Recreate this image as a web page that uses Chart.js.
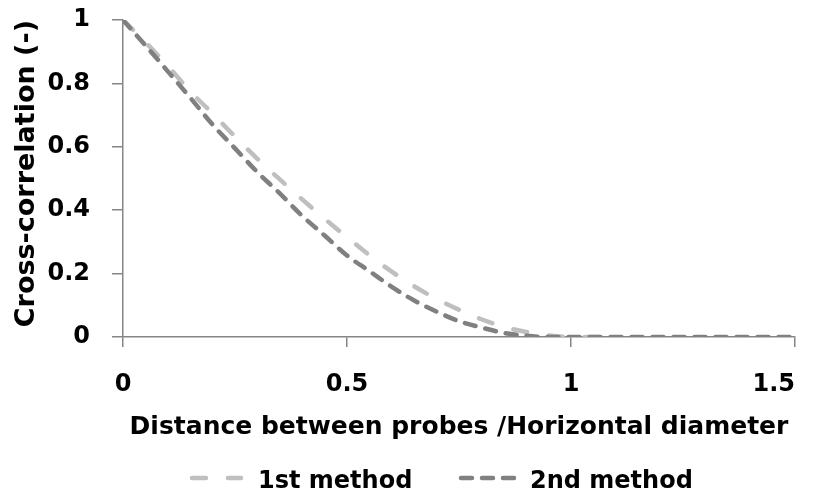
<!DOCTYPE html>
<html>
<head>
<meta charset="utf-8">
<script src="https://cdn.jsdelivr.net/npm/chart.js@4/dist/chart.umd.min.js"></script>
<style>
  html, body { margin: 0; padding: 0; background: #ffffff; }
  #wrap { width: 818px; height: 492px; }
</style>
</head>
<body>
<div id="wrap"><canvas id="c" width="818" height="492"></canvas></div>
<script>
// ---- data ----
const seriesNames = ['1st method', '2nd method'];
const xFirst  = [0, 0.05, 0.1, 0.15, 0.2, 0.25, 0.3, 0.35, 0.4, 0.45, 0.5, 0.55, 0.6, 0.65, 0.7, 0.75, 0.8, 0.85, 0.9, 0.95, 1.0, 1.1];
const yFirst  = [1, 0.93, 0.855, 0.775, 0.705, 0.632, 0.562, 0.497, 0.434, 0.373, 0.315, 0.258, 0.206, 0.16, 0.12, 0.086, 0.056, 0.032, 0.016, 0.005, 0, 0];
const xSecond = [0, 0.05, 0.1, 0.15, 0.2, 0.25, 0.3, 0.35, 0.4, 0.45, 0.5, 0.55, 0.6, 0.65, 0.7, 0.75, 0.8, 0.85, 0.9, 0.95, 1.0, 1.25, 1.5];
const ySecond = [1, 0.92, 0.838, 0.755, 0.67, 0.595, 0.52, 0.453, 0.382, 0.32, 0.257, 0.208, 0.158, 0.115, 0.08, 0.05, 0.03, 0.013, 0.004, 0, 0, 0, 0];
const xTicks = [0, 0.5, 1, 1.5];
const yTicks = [0, 0.2, 0.4, 0.6, 0.8, 1];
const xTitle = 'Distance between probes /Horizontal diameter';
const yTitle = 'Cross-correlation (-)';

const FONT = "'DejaVu Sans'";
const AXIS = '#868686';
const toPts = (xs, ys) => xs.map((x, i) => ({ x: x, y: ys[i] }));

// keep the last x tick label inside the canvas (right-aligned on its tick)
const lastLabelPlugin = {
  id: 'lastLabel',
  beforeDraw(chart) {
    const items = chart.scales.x.getLabelItems();
    if (items.length) items[items.length - 1].options.textAlign = 'right';
  }
};

// custom legend drawn from the datasets
const legendPlugin = {
  id: 'dashLegend',
  afterDraw(chart) {
    const ctx = chart.ctx;
    const pos = [
      { x1: 192, x2: 241, tx: 258 },
      { x1: 461, x2: 515, tx: 530 }
    ];
    const ySym = 478, yText = 488;
    chart.data.datasets.forEach((ds, i) => {
      const p = pos[i];
      ctx.save();
      ctx.strokeStyle = ds.borderColor;
      ctx.lineWidth = ds.borderWidth;
      ctx.lineCap = 'round';
      ctx.setLineDash(ds.borderDash);
      ctx.beginPath();
      ctx.moveTo(p.x1, ySym);
      ctx.lineTo(p.x2, ySym);
      ctx.stroke();
      ctx.setLineDash([]);
      ctx.fillStyle = '#000000';
      ctx.font = 'bold 24px ' + FONT;
      ctx.textBaseline = 'alphabetic';
      ctx.textAlign = 'left';
      ctx.fillText(ds.label, p.tx, yText);
      ctx.restore();
    });
  }
};

new Chart(document.getElementById('c'), {
  type: 'line',
  data: {
    datasets: [
      {
        label: seriesNames[0],
        data: toPts(xFirst, yFirst),
        borderColor: '#bfbfbf',
        borderWidth: 4.5,
        borderDash: [14, 22],
        borderCapStyle: 'round',
        pointRadius: 0,
        cubicInterpolationMode: 'monotone',
        fill: false,
        order: 1
      },
      {
        label: seriesNames[1],
        data: toPts(xSecond, ySecond),
        borderColor: '#808080',
        borderWidth: 4.5,
        borderDash: [11, 10],
        borderCapStyle: 'round',
        pointRadius: 0,
        cubicInterpolationMode: 'monotone',
        fill: false,
        order: 0
      }
    ]
  },
  options: {
    responsive: false,
    animation: false,
    devicePixelRatio: 1,
    layout: { padding: { top: 20, right: 23, left: 0, bottom: 30 } },
    plugins: {
      legend: { display: false },
      tooltip: { enabled: false }
    },
    scales: {
      x: {
        type: 'linear',
        min: 0, max: 1.5,
        afterFit: (s) => { s.height = 125; s.paddingLeft = 0; s.paddingRight = 0; },
        afterBuildTicks: (s) => { s.ticks = xTicks.map(v => ({ value: v })); },
        ticks: {
          color: '#000000',
          font: { family: FONT, size: 24, weight: 'bold' },
          padding: 23,
          maxRotation: 0,
          callback: (v) => String(v)
        },
        grid: { drawOnChartArea: false, drawTicks: true, tickLength: 10, color: AXIS, lineWidth: 1.5 },
        border: { display: true, color: AXIS, width: 1.5 },
        title: {
          display: true, text: xTitle, color: '#000000',
          font: { family: FONT, size: 25, weight: 'bold' },
          padding: { top: 0, bottom: 20 }
        }
      },
      y: {
        type: 'linear',
        min: 0, max: 1,
        afterFit: (s) => { s.width = 123; s.paddingTop = 0; s.paddingBottom = 0; },
        afterBuildTicks: (s) => { s.ticks = yTicks.map(v => ({ value: v })); },
        ticks: {
          color: '#000000',
          font: { family: FONT, size: 24, weight: 'bold' },
          padding: 22,
          callback: (v) => String(v)
        },
        grid: { drawOnChartArea: false, drawTicks: true, tickLength: 11, color: AXIS, lineWidth: 1.5 },
        border: { display: true, color: AXIS, width: 1.5 },
        title: {
          display: true, text: yTitle, color: '#000000', align: 'end',
          font: { family: FONT, size: 27, weight: 'bold' },
          padding: { top: 11, bottom: 0 }
        }
      }
    }
  },
  plugins: [lastLabelPlugin, legendPlugin]
});
</script>
</body>
</html>
